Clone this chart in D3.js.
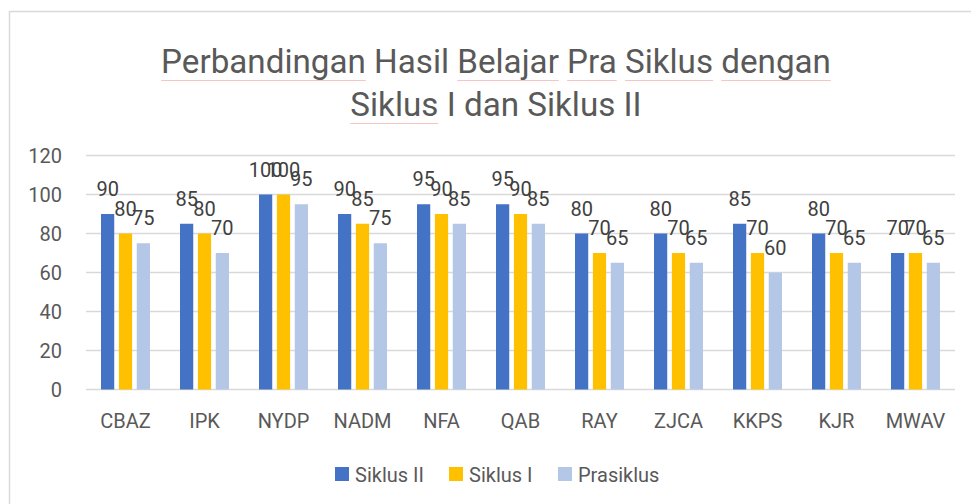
<!DOCTYPE html>
<html>
<head>
<meta charset="utf-8">
<script src="https://cdn.jsdelivr.net/npm/d3@7"></script>
<style>
  body { margin: 0; background: #fff; }
  text { font-family: Roboto, "Open Sans", sans-serif; }
</style>
</head>
<body>
<div id="chart"></div>
<script>
// data
var categories = ["CBAZ", "IPK", "NYDP", "NADM", "NFA", "QAB", "RAY", "ZJCA", "KKPS", "KJR", "MWAV"];
var seriesNames = ["Siklus II", "Siklus I", "Prasiklus"];
var siklus2 = [90, 85, 100, 90, 95, 95, 80, 80, 85, 80, 70];
var siklus1 = [80, 80, 100, 85, 90, 90, 70, 70, 70, 70, 70];
var prasiklus = [75, 70, 95, 75, 85, 85, 65, 65, 60, 65, 65];
var yTicks = [0, 20, 40, 60, 80, 100, 120];
var titleLines = ["Perbandingan Hasil Belajar Pra Siklus dengan", "Siklus I dan Siklus II"];
// words with the spell-check underline in the title: [line, word index]
var flagged = [[0, 0], [0, 2], [0, 3], [0, 4], [0, 5], [1, 0]];

var colors = ["#4472C4", "#FFC000", "#B4C7E7"];
var values = [siklus2, siklus1, prasiklus];

var W = 971, H = 504;
var margin = {top: 156, right: 16, bottom: 115, left: 86};

var svg = d3.select("#chart")
  .append("svg")
    .attr("width", W)
    .attr("height", H);

// outer chart border (only left/top visible)
svg.append("rect")
  .attr("x", 9.5).attr("y", 11.5)
  .attr("width", W + 20).attr("height", H + 20)
  .attr("fill", "none")
  .attr("stroke", "#d9d9d9")
  .attr("stroke-width", 1.5);

// title
var titles = svg.append("g").selectAll("text")
  .data(titleLines)
  .enter().append("text")
    .attr("x", 496)
    .attr("y", (d, i) => 73 + i * 43)
    .attr("text-anchor", "middle")
    .attr("font-size", 33.2)
    .attr("fill", "#595959")
    .text(d => d);

// faint red underlines under flagged words
titles.each(function(line, li) {
  var node = this;
  var bb = node.getBBox();
  var words = line.split(" ");
  var pos = 0;
  words.forEach(function(w, wi) {
    var isFlagged = flagged.some(f => f[0] === li && f[1] === wi);
    if (isFlagged) {
      var xs = bb.x + (pos > 0 ? node.getSubStringLength(0, pos) : 0);
      var wl = node.getSubStringLength(pos, w.length);
      svg.append("line")
        .attr("x1", xs).attr("x2", xs + wl)
        .attr("y1", 73 + li * 43 + 7.5).attr("y2", 73 + li * 43 + 7.5)
        .attr("stroke", "#f7c4c4")
        .attr("stroke-width", 1);
    }
    pos += w.length + 1;
  });
});

var x0 = d3.scaleBand()
  .domain(categories)
  .range([margin.left, W - margin.right])
  .paddingInner(0.38)
  .paddingOuter(0.19);

var x1 = d3.scaleBand()
  .domain(seriesNames)
  .range([0, x0.bandwidth()])
  .paddingInner(0.26);

var y = d3.scaleLinear()
  .domain([0, 120])
  .range([389.5, 155.5]);

// gridlines
svg.append("g").selectAll("line")
  .data(yTicks)
  .enter().append("line")
    .attr("x1", margin.left).attr("x2", W - margin.right)
    .attr("y1", d => y(d)).attr("y2", d => y(d))
    .attr("stroke", "#d9d9d9")
    .attr("stroke-width", 1.5);

// y labels
svg.append("g").selectAll("text")
  .data(yTicks)
  .enter().append("text")
    .attr("x", 62)
    .attr("y", d => y(d))
    .attr("dy", "0.36em")
    .attr("text-anchor", "end")
    .attr("font-size", 20)
    .attr("fill", "#595959")
    .text(d => d);

// x labels
svg.append("g").selectAll("text")
  .data(categories)
  .enter().append("text")
    .attr("x", d => x0(d) + x0.bandwidth() / 2)
    .attr("y", 428)
    .attr("text-anchor", "middle")
    .attr("font-size", 20)
    .attr("fill", "#595959")
    .text(d => d);

// bars
var rows = categories.map((c, i) => ({
  cat: c,
  vals: seriesNames.map((s, j) => ({series: s, value: values[j][i], color: colors[j]}))
}));

var groups = svg.append("g").selectAll("g")
  .data(rows)
  .enter().append("g")
    .attr("transform", d => "translate(" + x0(d.cat) + ",0)");

groups.selectAll("rect")
  .data(d => d.vals)
  .enter().append("rect")
    .attr("x", d => x1(d.series))
    .attr("y", d => y(d.value))
    .attr("width", x1.bandwidth())
    .attr("height", d => y(0) - y(d.value))
    .attr("fill", d => d.color);

// data labels
groups.selectAll("text")
  .data(d => d.vals)
  .enter().append("text")
    .attr("x", d => x1(d.series) + x1.bandwidth() / 2)
    .attr("y", d => y(d.value) - 18)
    .attr("text-anchor", "middle")
    .attr("font-size", 20)
    .attr("fill", "#404040")
    .text(d => d.value);

// legend
var legendX = [335, 449, 558];
var legend = svg.append("g").selectAll("g")
  .data(seriesNames)
  .enter().append("g")
    .attr("transform", (d, i) => "translate(" + legendX[i] + ",467)");

legend.append("rect")
  .attr("width", 14).attr("height", 14)
  .attr("fill", (d, i) => colors[i]);

legend.append("text")
  .attr("x", 20)
  .attr("y", 14.5)
  .attr("font-size", 20)
  .attr("fill", "#595959")
  .text(d => d);
</script>
</body>
</html>
